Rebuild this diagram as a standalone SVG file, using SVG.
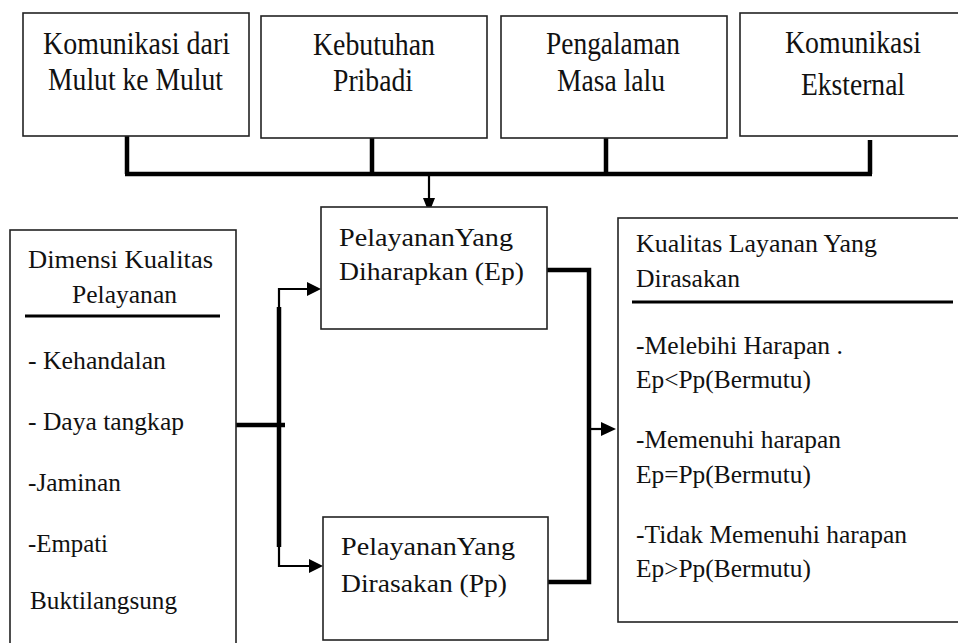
<svg xmlns="http://www.w3.org/2000/svg" width="958" height="643" viewBox="0 0 958 643">
<style>
.box{fill:#fff;stroke:#222;stroke-width:1.6}
.t{fill:#111}
.big{font-size:32px}
.sm{font-size:26px}
.thick{stroke:#000;stroke-width:4.5;fill:none}
.thin{stroke:#000;stroke-width:2.2;fill:none}
.sep{stroke:#000;stroke-width:3}
.head{fill:#000}
</style>
<rect width="958" height="643" fill="#fff"/>

<g id="connectors">
<path class="thick" d="M127,136 V174 M372,138 V174 M606,138 V174 M870,140 V174"/>
<path class="thick" d="M125,174 H872" stroke-width="5"/>
<path class="thin" d="M429,176 V200"/>
<path class="head" d="M423,198 L435,198 L429,213 z"/>
<path class="thick" d="M236,425 H285"/>
<path class="thick" d="M279,307 V547"/>
<path class="thin" d="M279,307 V289 H310"/>
<path class="head" d="M307,282 L321,289 L307,296 z"/>
<path class="thin" d="M279,547 V566 H312"/>
<path class="head" d="M309,559 L323,566 L309,573 z"/>
<path class="thick" d="M547,270 H589 V582 H548"/>
<path class="thin" d="M589,429 H604"/>
<path class="head" d="M601,422 L616,429 L601,436 z"/>
</g>

<g font-family="Liberation Serif, 'Times New Roman', 'DejaVu Serif', serif">
<g id="n1">
<rect class="box" x="23" y="13" width="226" height="123"/>
<text class="t big" x="43" y="54" textLength="187" lengthAdjust="spacingAndGlyphs">Komunikasi dari</text>
<text class="t big" x="48" y="90" textLength="175" lengthAdjust="spacingAndGlyphs">Mulut ke Mulut</text>
</g>
<g id="n2">
<rect class="box" x="261" y="16" width="226" height="122"/>
<text class="t big" x="313" y="55" textLength="122" lengthAdjust="spacingAndGlyphs">Kebutuhan</text>
<text class="t big" x="333" y="91" textLength="80" lengthAdjust="spacingAndGlyphs">Pribadi</text>
</g>
<g id="n3">
<rect class="box" x="501" y="16" width="226" height="122"/>
<text class="t big" x="546" y="54" textLength="134" lengthAdjust="spacingAndGlyphs">Pengalaman</text>
<text class="t big" x="557" y="91" textLength="108" lengthAdjust="spacingAndGlyphs">Masa lalu</text>
</g>
<g id="n4">
<rect class="box" x="740" y="13" width="222" height="123"/>
<text class="t big" x="785" y="53" textLength="136" lengthAdjust="spacingAndGlyphs">Komunikasi</text>
<text class="t big" x="801" y="95" textLength="104" lengthAdjust="spacingAndGlyphs">Eksternal</text>
</g>

<g id="dimensi">
<rect class="box" x="10" y="230" width="226" height="420"/>
<text class="t sm" x="28" y="268" textLength="185" lengthAdjust="spacingAndGlyphs">Dimensi Kualitas</text>
<text class="t sm" x="72" y="303" textLength="105" lengthAdjust="spacingAndGlyphs">Pelayanan</text>
<line class="sep" x1="25" y1="316" x2="220" y2="316"/>
<text class="t sm" x="28" y="369" textLength="138" lengthAdjust="spacingAndGlyphs">- Kehandalan</text>
<text class="t sm" x="28" y="430" textLength="156" lengthAdjust="spacingAndGlyphs">- Daya tangkap</text>
<text class="t sm" x="28" y="491" textLength="93" lengthAdjust="spacingAndGlyphs">-Jaminan</text>
<text class="t sm" x="28" y="552" textLength="80" lengthAdjust="spacingAndGlyphs">-Empati</text>
<text class="t sm" x="30" y="609" textLength="147" lengthAdjust="spacingAndGlyphs">Buktilangsung</text>
</g>

<g id="ep">
<rect class="box" x="321" y="207" width="226" height="122"/>
<text class="t sm" x="339" y="246" textLength="174" lengthAdjust="spacingAndGlyphs">PelayananYang</text>
<text class="t sm" x="339" y="280" textLength="185" lengthAdjust="spacingAndGlyphs">Diharapkan (Ep)</text>
</g>
<g id="pp">
<rect class="box" x="323" y="517" width="225" height="123"/>
<text class="t sm" x="341" y="555" textLength="174" lengthAdjust="spacingAndGlyphs">PelayananYang</text>
<text class="t sm" x="341" y="592" textLength="166" lengthAdjust="spacingAndGlyphs">Dirasakan (Pp)</text>
</g>

<g id="kualitas">
<rect class="box" x="618" y="218" width="345" height="404"/>
<text class="t sm" x="636" y="252" textLength="241" lengthAdjust="spacingAndGlyphs">Kualitas Layanan Yang</text>
<text class="t sm" x="636" y="287" textLength="104" lengthAdjust="spacingAndGlyphs">Dirasakan</text>
<line class="sep" x1="632" y1="302" x2="953" y2="302"/>
<text class="t sm" x="636" y="354" textLength="207" lengthAdjust="spacingAndGlyphs">-Melebihi Harapan .</text>
<text class="t sm" x="636" y="388" textLength="175" lengthAdjust="spacingAndGlyphs">Ep&lt;Pp(Bermutu)</text>
<text class="t sm" x="636" y="448" textLength="205" lengthAdjust="spacingAndGlyphs">-Memenuhi harapan</text>
<text class="t sm" x="636" y="483" textLength="175" lengthAdjust="spacingAndGlyphs">Ep=Pp(Bermutu)</text>
<text class="t sm" x="636" y="543" textLength="271" lengthAdjust="spacingAndGlyphs">-Tidak Memenuhi harapan</text>
<text class="t sm" x="636" y="577" textLength="175" lengthAdjust="spacingAndGlyphs">Ep&gt;Pp(Bermutu)</text>
</g>
</g>
</svg>
